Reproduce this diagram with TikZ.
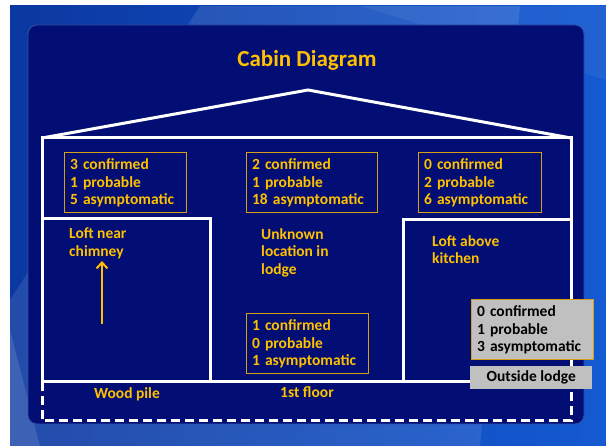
\documentclass[tikz,border=0pt]{standalone}
\usepackage{fontspec}
\setmainfont{Carlito}
\usetikzlibrary{arrows.meta}
\definecolor{bgblue}{RGB}{12,62,178}
\definecolor{bglight}{RGB}{20,90,210}
\definecolor{panelblue}{RGB}{2,14,116}
\definecolor{panelline}{RGB}{50,80,170}
\definecolor{gold}{RGB}{255,192,0}
\definecolor{goldline}{RGB}{215,160,20}
\definecolor{lgray}{RGB}{192,192,192}
\tikzset{
  wall/.style={draw=white, line width=3pt},
  dashwall/.style={draw=white, line width=3pt, dash pattern=on 9pt off 5pt},
  tbox/.style={draw=goldline, line width=1pt, text=gold, font=\bfseries\fontsize{15.5}{17.5}\selectfont, align=left, anchor=north west, inner xsep=6pt, inner ysep=0pt, minimum height=60pt},
  gbox/.style={tbox, fill=lgray, text=black},
  lbl/.style={text=gold, font=\bfseries\fontsize{15.5}{17.5}\selectfont, align=left, inner sep=0pt},
}
\begin{document}
\begin{tikzpicture}[x=1pt, y=-1pt]
\useasboundingbox (0,0) rectangle (606,446);
% background
\fill[white] (0,0) rectangle (606,446);
\shade[left color=bgblue!90!black, right color=bglight] (10,6) rectangle (606,446);
\fill[white, opacity=0.10] (200,6) -- (520,6) -- (480,446) -- (10,446) -- (10,300) -- cycle;
\fill[white, opacity=0.12] (10,330) -- (40,446) -- (10,446) -- cycle;
\fill[white, opacity=0.06] (360,6) -- (606,6) -- (606,80) -- cycle;
% panel
\fill[panelblue, draw=panelline, line width=0.8pt, rounded corners=9pt] (28,25) rectangle (584,424);
% title
\node[text=gold, font=\bfseries\fontsize{23}{26}\selectfont] (title) at (307,60) {Cabin Diagram};
% house
\coordinate (rl) at (42,138);
\coordinate (ap) at (308,90);
\coordinate (rr) at (571,138);
\coordinate (fl) at (42,382);
\coordinate (fr) at (571,382);
\coordinate (bl) at (42,421);
\coordinate (br) at (571,421);
\draw[wall, line join=miter] (rl) -- (ap) -- (rr);
\draw[dashwall] (fl) -- (bl) -- (br) -- (fr);
\draw[wall] (fr) -- (rr) -- (rl) -- (fl) -- (fr);
% lofts
\coordinate (ll1) at (42,219);
\coordinate (ll2) at (210,219);
\coordinate (ll3) at (210,382);
\coordinate (rl1) at (571,220);
\coordinate (rl2) at (403,220);
\coordinate (rl3) at (403,382);
\draw[wall] (ll1) -- (ll2) -- (ll3);
\draw[wall] (rl1) -- (rl2) -- (rl3);
% count boxes
\node[tbox, text width=110pt] (b1) at (63.5,152.5) {3 confirmed\\1 probable\\5 asymptomatic};
\node[tbox, text width=119pt] (b2) at (245.5,152.5) {2 confirmed\\1 probable\\18 asymptomatic};
\node[tbox, text width=111pt] (b3) at (417.5,152.5) {0 confirmed\\2 probable\\6 asymptomatic};
\node[tbox, text width=110pt] (b4) at (245.5,313.5) {1 confirmed\\0 probable\\1 asymptomatic};
\node[gbox, text width=110pt] (b5) at (470.5,299.5) {0 confirmed\\1 probable\\3 asymptomatic};
\node[fill=lgray, minimum width=122pt, minimum height=23pt, inner sep=0pt, anchor=north west, font=\bfseries\fontsize{15.5}{17.5}\selectfont] (out) at (470,366) {Outside lodge};
% labels
\node[lbl, anchor=north west] (loftc) at (69,228) {Loft near\\chimney};
\node[lbl, anchor=north west] (unk) at (261,228) {Unknown\\location in\\lodge};
\node[lbl, anchor=north west] (loftk) at (432,235) {Loft above\\kitchen};
\node[lbl] (wood) at (127,394) {Wood pile};
\node[lbl] (floor) at (307,392) {1st floor};
% arrow
\coordinate (arS) at (102,324);
\coordinate (arE) at (102,261);
\draw[gold, line width=2pt, -{Straight Barb[length=6pt, width=11pt]}] (arS) -- (arE);
\end{tikzpicture}
\end{document}
